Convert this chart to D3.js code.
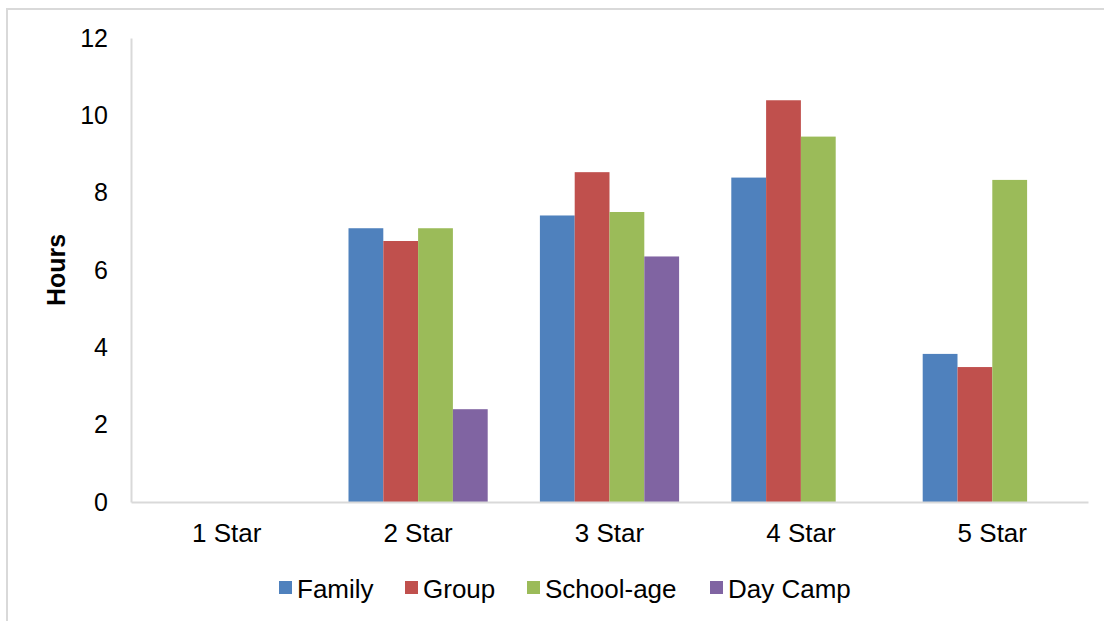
<!DOCTYPE html>
<html>
<head>
<meta charset="utf-8">
<script src="https://cdn.jsdelivr.net/npm/d3@7"></script>
<style>
  html, body { margin: 0; padding: 0; background: #fff; }
  svg { display: block; font-family: "Liberation Sans", Arial, sans-serif; }
</style>
</head>
<body>
<svg id="chart" width="1104" height="621"></svg>
<script>
// Star rating levels along the x axis
const categories = ["1 Star", "2 Star", "3 Star", "4 Star", "5 Star"];
// Facility types (one bar per type in each rating group)
const seriesNames = ["Family", "Group", "School-age", "Day Camp"];
// Average hours per rating level, one array per facility type (null = no bar)
const family    = [null, 7.08, 7.41, 8.39, 3.83];
const group     = [null, 6.75, 8.53, 10.39, 3.49];
const schoolAge = [null, 7.08, 7.50, 9.45, 8.33];
const dayCamp   = [null, 2.40, 6.35, null, null];
const yTicks = [0, 2, 4, 6, 8, 10, 12];
const colors = ["#4F81BD", "#C0504D", "#9BBB59", "#8064A2"];

const seriesValues = [family, group, schoolAge, dayCamp];

const svg = d3.select("#chart");
const W = 1104, H = 621;
const plot = { left: 131, right: 1088, top: 38, bottom: 502 };
const FONT = "'Liberation Sans', Arial, sans-serif";

// Outer frame around the chart area
svg.append("path")
  .attr("d", `M7,${H + 2} V9 H${W + 2}`)
  .attr("fill", "none")
  .attr("stroke", "#d9d9d9")
  .attr("stroke-width", 2);

const x0 = d3.scaleBand()
  .domain(categories)
  .range([plot.left, plot.right])
  .paddingInner(0)
  .paddingOuter(0);

// gap of 150% of a bar's width between groups
const barW = x0.bandwidth() / (seriesNames.length + 1.5);
const x1 = d3.scaleBand()
  .domain(seriesNames)
  .range([barW * 0.75, barW * 0.75 + barW * seriesNames.length])
  .padding(0);

const y = d3.scaleLinear().domain([0, 12]).range([plot.bottom, plot.top]);

// Bars
const rows = categories.map((c, i) => ({
  cat: c,
  vals: seriesNames.map((s, j) => ({ name: s, value: seriesValues[j][i], color: colors[j] }))
}));

const groups = svg.append("g").selectAll("g")
  .data(rows)
  .join("g")
  .attr("transform", d => `translate(${x0(d.cat)},0)`);

groups.selectAll("rect")
  .data(d => d.vals.filter(v => v.value != null))
  .join("rect")
  .attr("x", d => x1(d.name))
  .attr("width", x1.bandwidth())
  .attr("y", d => y(d.value))
  .attr("height", d => y(0) - y(d.value))
  .attr("fill", d => d.color);

// Y axis
const yAxis = d3.axisLeft(y).tickValues(yTicks).tickSize(0).tickPadding(23);
const gy = svg.append("g").attr("transform", `translate(${plot.left},0)`).call(yAxis);
gy.select(".domain").attr("stroke", "#d9d9d9").attr("stroke-width", 2);
gy.selectAll("text").attr("font-size", 25).attr("fill", "#000").attr("font-family", FONT);

// X axis
const xAxis = d3.axisBottom(x0).tickSize(0).tickPadding(22);
const gx = svg.append("g").attr("transform", `translate(0,${plot.bottom})`).call(xAxis);
gx.select(".domain").attr("stroke", "#d9d9d9").attr("stroke-width", 2);
gx.selectAll("text").attr("font-size", 26).attr("fill", "#000").attr("font-family", FONT);

// Y axis title
svg.append("text")
  .attr("transform", `translate(65,${(plot.top + plot.bottom) / 2}) rotate(-90)`)
  .attr("text-anchor", "middle")
  .attr("font-size", 25)
  .attr("font-weight", "bold")
  .attr("font-family", FONT)
  .text("Hours");

// Legend
const legendX = [279, 405, 527, 710];
const legend = svg.append("g").selectAll("g")
  .data(seriesNames)
  .join("g")
  .attr("transform", (d, i) => `translate(${legendX[i]},581)`);
legend.append("rect").attr("width", 13).attr("height", 13).attr("fill", (d, i) => colors[i]);
legend.append("text")
  .attr("x", 18).attr("y", 17)
  .attr("font-size", 26)
  .attr("font-family", FONT)
  .text(d => d);
</script>
</body>
</html>
